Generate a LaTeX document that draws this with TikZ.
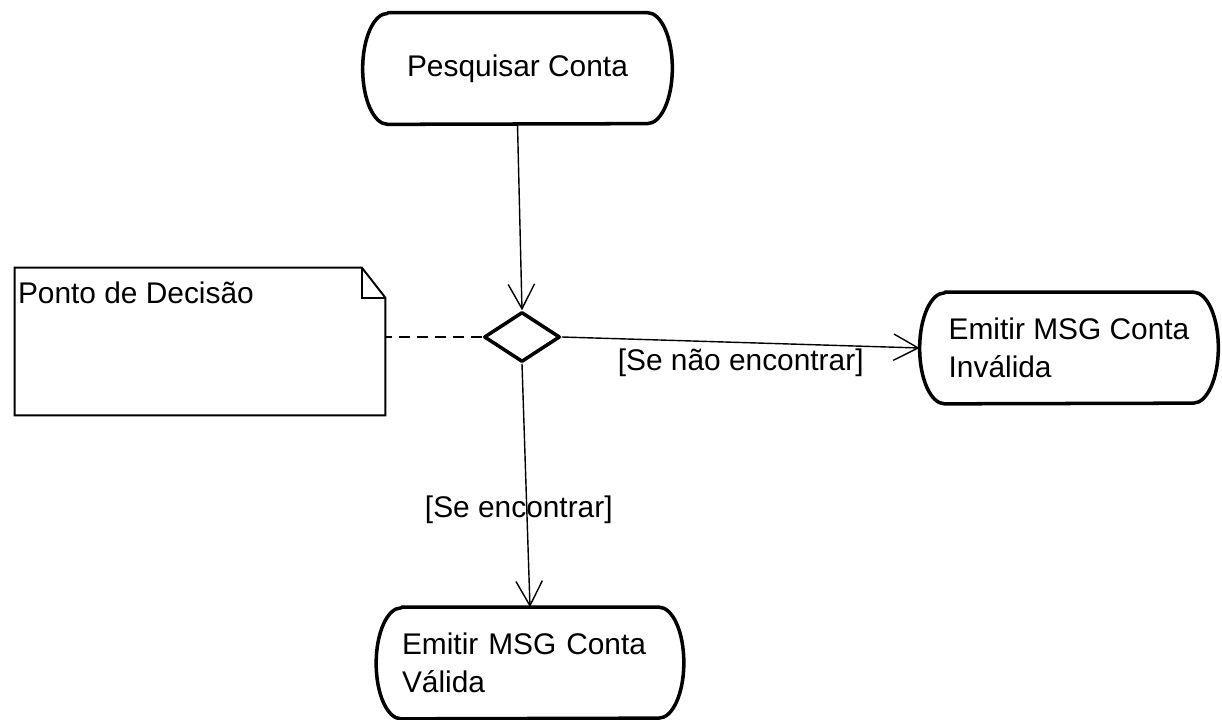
\documentclass[tikz,border=0pt]{standalone}
\usepackage{fontspec}
\setmainfont{Liberation Sans}
\usetikzlibrary{shapes.geometric,arrows.meta}
\newcommand{\contorno}[1]{%
  \draw[borda] ([xshift=0.5cm]#1.north west) -- ([xshift=-0.5cm]#1.north east)
    arc[start angle=90, end angle=-90, x radius=0.5cm, y radius=1.11cm]
    -- ([xshift=0.5cm]#1.south west)
    arc[start angle=270, end angle=90, x radius=0.5cm, y radius=1.11cm] -- cycle;}
\tikzset{
  borda/.style={line width=2pt, line join=round},
  acao/.style={minimum height=2.22cm, minimum width=#1, align=left},
  fluxo/.style={->, line width=0.8pt},
  nota/.style={line width=1.1pt}
}
\begin{document}
\begin{tikzpicture}[>={Straight Barb[length=14pt,width=15pt]}, font=\fontsize{17}{21.6}\selectfont]
    \useasboundingbox (0,0) rectangle (24.44,14.4);
    \node[acao=6.18cm] (pesq) at (10.35,13.03) {Pesquisar Conta};
    \node[diamond, borda, draw, minimum width=1.52cm, minimum height=1cm, inner sep=0pt] (dec) at (10.44,7.66) {};
    \node[acao=5.96cm] (inval) at (21.38,7.44) {Emitir MSG Conta\\Inválida};
    \node[acao=6.14cm, text width=5.12cm] (valida) at (10.6,1.14) {Emitir MSG Conta\\Válida};
    \foreach \n in {pesq,inval,valida}{ \contorno{\n} }
    % nota
    \node[minimum width=7.4cm, minimum height=2.94cm] (nt) at (4.0,7.57) {};
    \draw[nota] (nt.south west) -- (nt.south east) -- ([yshift=-0.6cm]nt.north east)
        -- ([xshift=-0.47cm]nt.north east) -- (nt.north west) -- cycle;
    \draw[nota] ([xshift=-0.47cm]nt.north east) |- ([yshift=-0.6cm]nt.north east);
    \node[anchor=west, inner sep=0.06cm] (nttxt) at ([yshift=-0.5cm]nt.north west) {Ponto de Decisão};
    \draw[nota, dash pattern=on 0.22cm off 0.14cm] (dec.west) -- (dec.west -| nt.east);
    % fluxos
    \draw[fluxo] (pesq.south) -- (dec.north);
    \draw[fluxo] (dec.east) -- (inval.west) node[midway, below] {[Se não encontrar]};
    \draw[fluxo] (dec.south) -- (valida.north) node[pos=0.6, xshift=-0.16cm] {[Se encontrar]};
\end{tikzpicture}
\end{document}
